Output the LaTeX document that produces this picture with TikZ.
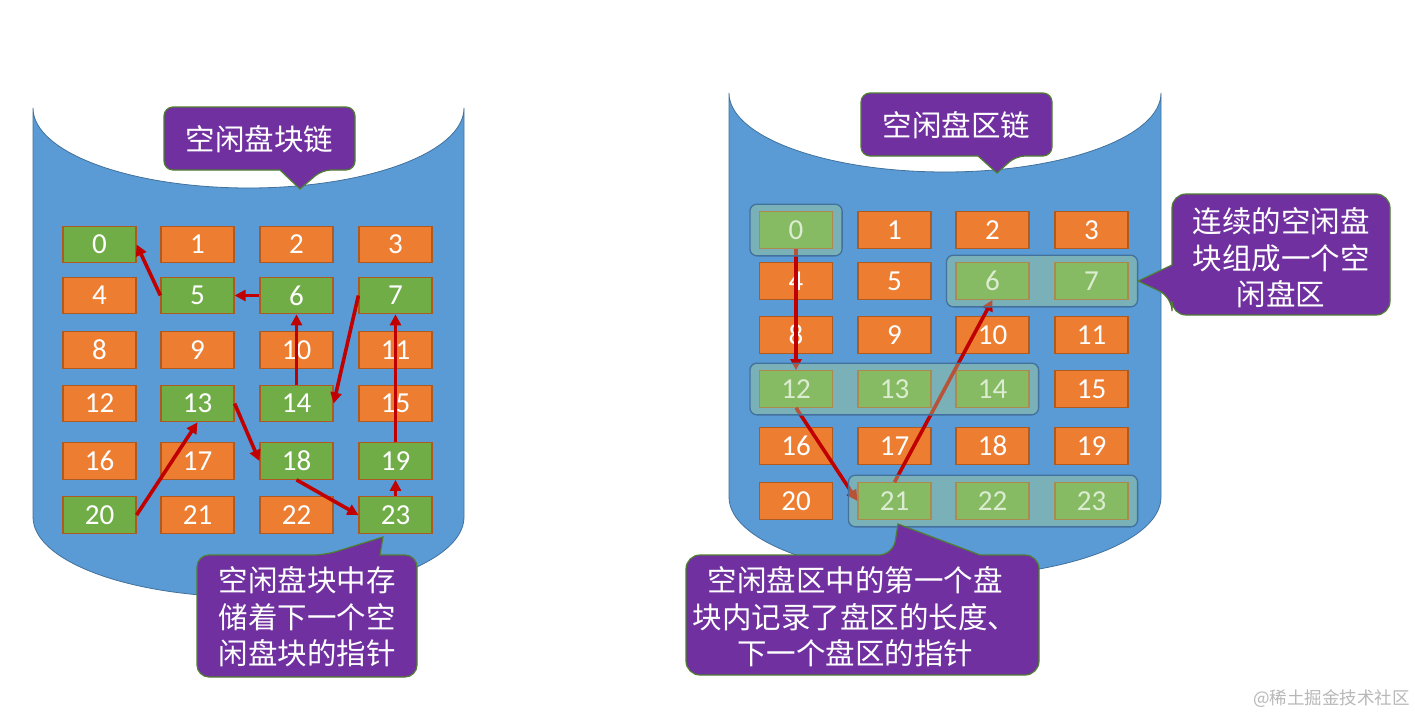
\documentclass[tikz,border=0pt]{standalone}
\usepackage{fontspec}
\newfontfamily\cjk{Noto Sans CJK SC}
\newfontfamily\numf{Carlito}
\usetikzlibrary{arrows.meta,fit}
\definecolor{cylblue}{HTML}{5B9BD5}
\definecolor{cyledge}{HTML}{41719C}
\definecolor{blkor}{HTML}{ED7D31}
\definecolor{blkgr}{HTML}{70AD47}
\definecolor{blkedge}{HTML}{AE5A21}
\definecolor{callpur}{HTML}{7030A0}
\definecolor{calledge}{HTML}{507E32}
\definecolor{arrred}{HTML}{C00000}
\definecolor{grpfill}{HTML}{A9D18E}
\begin{document}
\begin{tikzpicture}[x=1pt,y=-1pt,
  blk/.style={draw=blkedge, line width=1.2pt, minimum width=73pt, minimum height=36.5pt, inner sep=0pt, text=white, font=\numf\fontsize{29}{29}\selectfont, fill=blkor},
  greenblk/.style={fill=blkgr},
  lf0/.style={greenblk}, lf5/.style={greenblk}, lf6/.style={greenblk}, lf7/.style={greenblk},
  lf13/.style={greenblk}, lf14/.style={greenblk}, lf18/.style={greenblk}, lf19/.style={greenblk},
  lf20/.style={greenblk}, lf23/.style={greenblk},
  rf0/.style={greenblk}, rf6/.style={greenblk}, rf7/.style={greenblk}, rf12/.style={greenblk},
  rf13/.style={greenblk}, rf14/.style={greenblk}, rf21/.style={greenblk}, rf22/.style={greenblk}, rf23/.style={greenblk},
  link/.style={draw=arrred, line width=3.6pt, -{Triangle[length=11pt,width=11pt]}},
  cyl/.style={fill=cylblue, draw=cyledge, line width=0.8pt},
  callout/.style={fill=callpur, draw=calledge, line width=1.2pt},
  calltext/.style={text=white, align=center, inner sep=0pt, font=\cjk\fontsize{29.5}{36.5}\selectfont},
  grp/.style={fill=grpfill, fill opacity=0.4, draw=cyledge, line width=1.3pt, rounded corners=7pt, inner xsep=9pt, inner ysep=7pt}
]
\useasboundingbox (0,0) rectangle (1415,717);
\fill[white] (0,0) rectangle (1415,717);

% ---------- left cylinder ----------
\path[cyl] (33,108) -- (33,517) arc[start angle=180, end angle=360, x radius=215.5pt, y radius=80pt]
  -- (464,108) arc[start angle=0, end angle=-180, x radius=215.5pt, y radius=80pt] -- cycle;

\foreach \r/\y in {0/244.5,1/295.5,2/350,3/403.5,4/461,5/515}
  \foreach \c/\x in {0/99.5,1/197.5,2/296.5,3/395.5} {
    \pgfmathtruncatemacro\n{4*\r+\c}
    \node[blk, lf\n/.try] (L\n) at (\x,\y) {\n};
  }

\draw[link] (L5.west) -- (L0.east);
\draw[link] (L6.west) -- (L5.east);
\draw[link] (L7.west) -- (L14.east);
\draw[link] (L14.north) -- (L6.south);
\draw[link] (L13.east) -- (L18.west);
\draw[link] (L20.east) -- (L13.south);
\draw[link] (L18.south) -- (L23.west);
\draw[link] (L23.north) -- (L19.south);
\draw[link] (L19.north) -- (L7.south);

\path[callout, rounded corners=9pt] (164,107) -- (355,107) -- (355,170) -- (322,170) [sharp corners] -- (300,189) -- (280,170) [rounded corners=9pt] -- (164,170) -- cycle;
\node[calltext] (t1) at (259.5,139) {空闲盘块链};

\path[callout, rounded corners=12pt] (197,555) -- (325,555) [sharp corners] -- (383,537) -- (380,555) [rounded corners=12pt] -- (417,555) -- (417,677) -- (197,677) -- cycle;
\node[calltext] (t2) at (307,617) {空闲盘块中存\\储着下一个空\\闲盘块的指针};

% ---------- right cylinder ----------
\path[cyl] (729,93) -- (729,497) arc[start angle=180, end angle=360, x radius=216pt, y radius=80pt]
  -- (1161,93) arc[start angle=0, end angle=-180, x radius=216pt, y radius=79pt] -- cycle;

\foreach \r/\y in {0/230,1/281,2/335,3/389,4/446,5/501}
  \foreach \c/\x in {0/796,1/894.5,2/992.5,3/1091.5} {
    \pgfmathtruncatemacro\n{4*\r+\c}
    \node[blk, rf\n/.try] (R\n) at (\x,\y) {\n};
  }

\draw[link] (R0.south) -- (R12.north);
\draw[link] (R12.south) -- (R21.west);
\draw[link] (R21.north) -- (R6.south);

\node[grp, fit=(R0)] (g0) {};
\node[grp, fit=(R6)(R7)] (g67) {};
\node[grp, fit=(R12)(R14)] (g1214) {};
\node[grp, fit=(R21)(R23)] (g2123) {};

\path[callout, rounded corners=9pt] (861,93) -- (1052,93) -- (1052,156) -- (1016,156) [sharp corners] -- (997,173) -- (978,156) [rounded corners=9pt] -- (861,156) -- cycle;
\node[calltext] (t3) at (956.5,125) {空闲盘区链};

\path[callout, rounded corners=14pt] (1172,194) -- (1390,194) -- (1390,315) -- (1172,315) -- (1172,297) [sharp corners] -- (g67.east) -- (1172,265) [rounded corners=14pt] -- cycle;
\node[calltext] (t4) at (1281,258) {连续的空闲盘\\块组成一个空\\闲盘区};

\path[callout, rounded corners=14pt] (686,555) -- (893,555) [sharp corners] -- (898,524) -- (980,555) [rounded corners=14pt] -- (1039,555) -- (1039,675) -- (686,675) -- cycle;
\node[calltext] (t5) at (855,617) {空闲盘区中的第一个盘\\块内记录了盘区的长度、\\下一个盘区的指针};

\node[anchor=east, text=black!28, inner sep=0pt, font=\cjk\fontsize{17.5}{18}\selectfont] (wm) at (1410,699) {@稀土掘金技术社区};
\end{tikzpicture}
\end{document}
